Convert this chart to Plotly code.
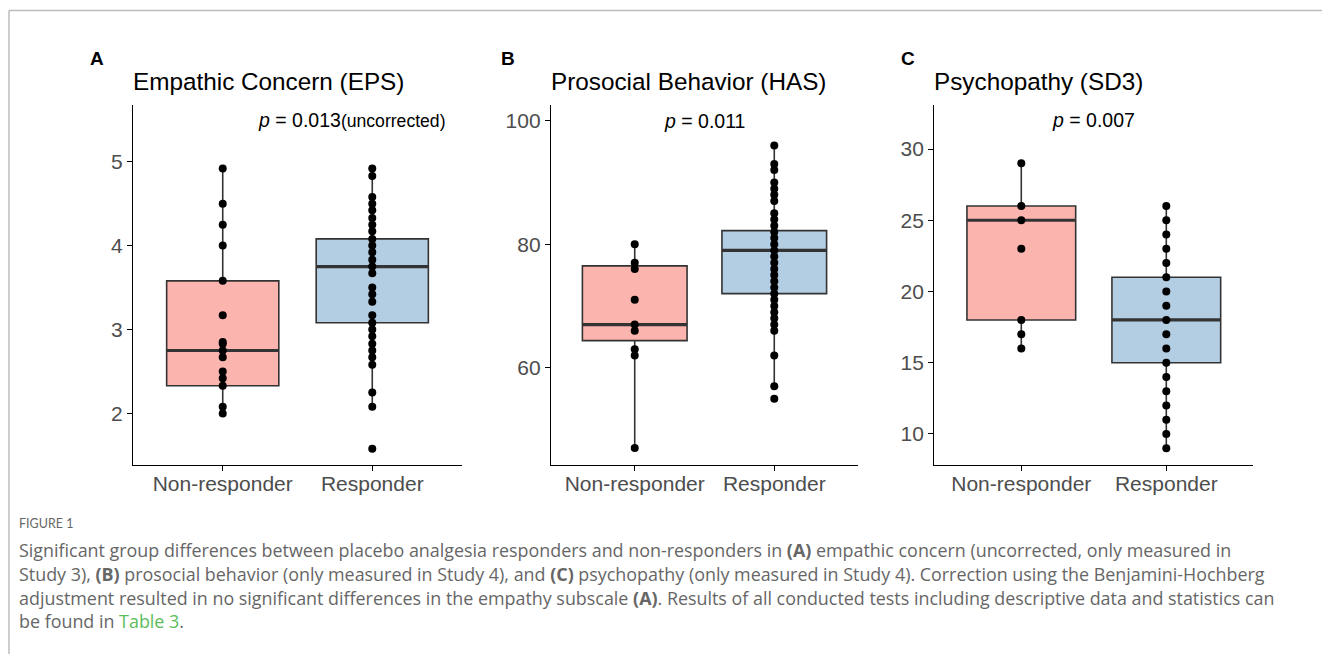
import plotly.graph_objects as go

W, H = 1322, 654

groups = ["Non-responder", "Responder"]
titles = ["Empathic Concern (EPS)", "Prosocial Behavior (HAS)", "Psychopathy (SD3)"]
panel_labels = ["A", "B", "C"]
p_texts = ["<i>p</i> = 0.013<span style='font-size:17.6px'>(uncorrected)</span>",
           "<i>p</i> = 0.011", "<i>p</i> = 0.007"]

# Panel A: Empathic Concern (EPS)
eps_non = [4.92, 4.50, 4.25, 4.00, 3.58, 3.17, 2.85, 2.83, 2.75, 2.67, 2.50, 2.42, 2.33, 2.08, 2.00]
eps_resp = [4.92, 4.83, 4.58, 4.50, 4.42, 4.33, 4.25, 4.17, 4.08, 4.00, 3.92, 3.83, 3.75, 3.67,
            3.50, 3.42, 3.33, 3.17, 3.08, 3.00, 2.92, 2.83, 2.75, 2.67, 2.58, 2.25, 2.08, 1.58]
# Panel B: Prosocial Behavior (HAS)
has_non = [80, 77, 76, 71, 67, 66, 63, 62, 47]
has_resp = [96, 93, 92, 90, 89, 88, 87, 85, 84, 83, 82, 81, 80, 79, 78, 77, 76, 75, 74, 73,
            72, 71, 70, 69, 68, 67, 66, 62, 57, 55]
# Panel C: Psychopathy (SD3)
sd3_non = [29, 26, 25, 23, 18, 17, 16]
sd3_resp = [26, 25, 24, 23, 22, 21, 20, 19, 18, 17, 16, 15, 14, 13, 12, 11, 10, 9]

# box statistics [non-responder, responder]: q1, median, q3, lower whisker, upper whisker
eps_q1, eps_med, eps_q3, eps_lo, eps_hi = [2.33, 3.08], [2.75, 3.75], [3.58, 4.08], [2.00, 2.08], [4.92, 4.92]
has_q1, has_med, has_q3, has_lo, has_hi = [64.4, 72.0], [67.0, 79.0], [76.5, 82.2], [47, 57], [80, 96]
sd3_q1, sd3_med, sd3_q3, sd3_lo, sd3_hi = [18, 15], [25, 18], [26, 21], [16, 9], [29, 26]

y_ticks = [[2, 3, 4, 5], [60, 80, 100], [10, 15, 20, 25, 30]]
y_ranges = [[1.385, 5.676], [44.26, 102.54], [7.82, 33.09]]
p_pos = [(1.22, 5.50, "left"), (1.5, 100.0, "center"), (1.5, 32.03, "center")]

panels = [
    (eps_non, eps_resp, eps_q1, eps_med, eps_q3, eps_lo, eps_hi),
    (has_non, has_resp, has_q1, has_med, has_q3, has_lo, has_hi),
    (sd3_non, sd3_resp, sd3_q1, sd3_med, sd3_q3, sd3_lo, sd3_hi),
]

fills = ["#FBB4AE", "#B3CDE3"]
x_dom_px = [(133, 462), (551, 858), (934.3, 1253.3)]
y_dom = [1 - 465 / H, 1 - 105 / H]
box_w = 0.75
FONT = "Liberation Sans, Arial, sans-serif"

fig = go.Figure()
annotations = []

for k, (non, resp, q1, med, q3, lo, hi) in enumerate(panels):
    xa = "x" if k == 0 else f"x{k+1}"
    ya = "y" if k == 0 else f"y{k+1}"
    vals = [non, resp]
    for g in range(2):
        pos = g + 1
        fig.add_trace(go.Box(
            x=[pos], q1=[q1[g]], median=[med[g]], q3=[q3[g]],
            lowerfence=[lo[g]], upperfence=[hi[g]],
            width=box_w, whiskerwidth=0, boxpoints=False,
            fillcolor=fills[g], line=dict(color="#333333", width=1.6),
            xaxis=xa, yaxis=ya, showlegend=False, hoverinfo="skip"))
        fig.add_trace(go.Scatter(
            x=[pos - box_w / 2, pos + box_w / 2], y=[med[g], med[g]], mode="lines",
            line=dict(color="#333333", width=3.2), xaxis=xa, yaxis=ya,
            showlegend=False, hoverinfo="skip"))
        fig.add_trace(go.Scatter(
            x=[pos] * len(vals[g]), y=vals[g], mode="markers",
            marker=dict(color="black", size=8), xaxis=xa, yaxis=ya,
            showlegend=False, hoverinfo="skip"))

    x0, x1 = x_dom_px[k]
    axis_common = dict(showline=True, linecolor="black", linewidth=1.3, ticks="outside",
                       ticklen=5, tickcolor="black", tickwidth=1.3, showgrid=False,
                       zeroline=False, tickfont=dict(family=FONT, size=21, color="#4D4D4D"))
    fig.update_layout(**{
        ("xaxis" if k == 0 else f"xaxis{k+1}"): dict(
            domain=[x0 / W, x1 / W], range=[0.4, 2.6], tickvals=[1, 2], ticktext=groups,
            anchor=ya, fixedrange=True, ticklabelstandoff=-5, **axis_common),
        ("yaxis" if k == 0 else f"yaxis{k+1}"): dict(
            domain=y_dom, range=y_ranges[k], tickvals=y_ticks[k], anchor=xa,
            fixedrange=True, **axis_common),
    })
    # title
    annotations.append(dict(text=titles[k], xref="paper", yref="paper", x=(x0 - 2) / W,
                            y=1 - 81 / H, xanchor="left", yanchor="middle", showarrow=False,
                            font=dict(family=FONT, size=24.3, color="black")))
    # panel label
    lab_x = [97, 508, 908][k]
    annotations.append(dict(text=f"<b>{panel_labels[k]}</b>", xref="paper", yref="paper",
                            x=lab_x / W, y=1 - 59 / H, xanchor="center", yanchor="middle",
                            showarrow=False, font=dict(family=FONT, size=19, color="black")))
    # p value
    px_, py_, anc = p_pos[k]
    annotations.append(dict(text=p_texts[k], xref=xa, yref=ya, x=px_, y=py_, xanchor=anc,
                            yanchor="middle", showarrow=False,
                            font=dict(family=FONT, size=19.5, color="black")))

CAP_FONT = "Open Sans, Lato, sans-serif"
cap_lines = [
    "Significant group differences between placebo analgesia responders and non-responders in <b>(A)</b> empathic concern (uncorrected, only measured in",
    "Study 3), <b>(B)</b> prosocial behavior (only measured in Study 4), and <b>(C)</b> psychopathy (only measured in Study 4). Correction using the Benjamini-Hochberg",
    "adjustment resulted in no significant differences in the empathy subscale <b>(A)</b>. Results of all conducted tests including descriptive data and statistics can",
    "be found in <span style='color:#5BBD5B'>Table 3</span>.",
]
cap_y = [550, 574, 598, 621]
annotations.append(dict(text="FIGURE 1", xref="paper", yref="paper", x=17 / W, y=1 - 523 / H,
                        xanchor="left", yanchor="middle", showarrow=False,
                        font=dict(family="Lato, sans-serif", size=12.5, color="#666666")))
for line, yy in zip(cap_lines, cap_y):
    annotations.append(dict(text=line, xref="paper", yref="paper", x=17 / W, y=1 - yy / H,
                            xanchor="left", yanchor="middle", showarrow=False,
                            font=dict(family=CAP_FONT, size=17.9, color="#666666")))

shapes = [
    dict(type="line", xref="paper", yref="paper", x0=9 / W, x1=1, y0=1 - 10.5 / H, y1=1 - 10.5 / H,
         line=dict(color="#BDBDBD", width=1.5)),
    dict(type="line", xref="paper", yref="paper", x0=9 / W, x1=9 / W, y0=0, y1=1 - 10.5 / H,
         line=dict(color="#BDBDBD", width=1.5)),
]

fig.update_layout(width=W, height=H, margin=dict(l=0, r=0, t=0, b=0),
                  paper_bgcolor="white", plot_bgcolor="white",
                  annotations=annotations, shapes=shapes, showlegend=False)

fig.write_html("out.html", config={"displayModeBar": False},
               post_script="document.body.style.margin='0px';document.body.style.padding='0px';document.body.style.overflow='hidden';")
